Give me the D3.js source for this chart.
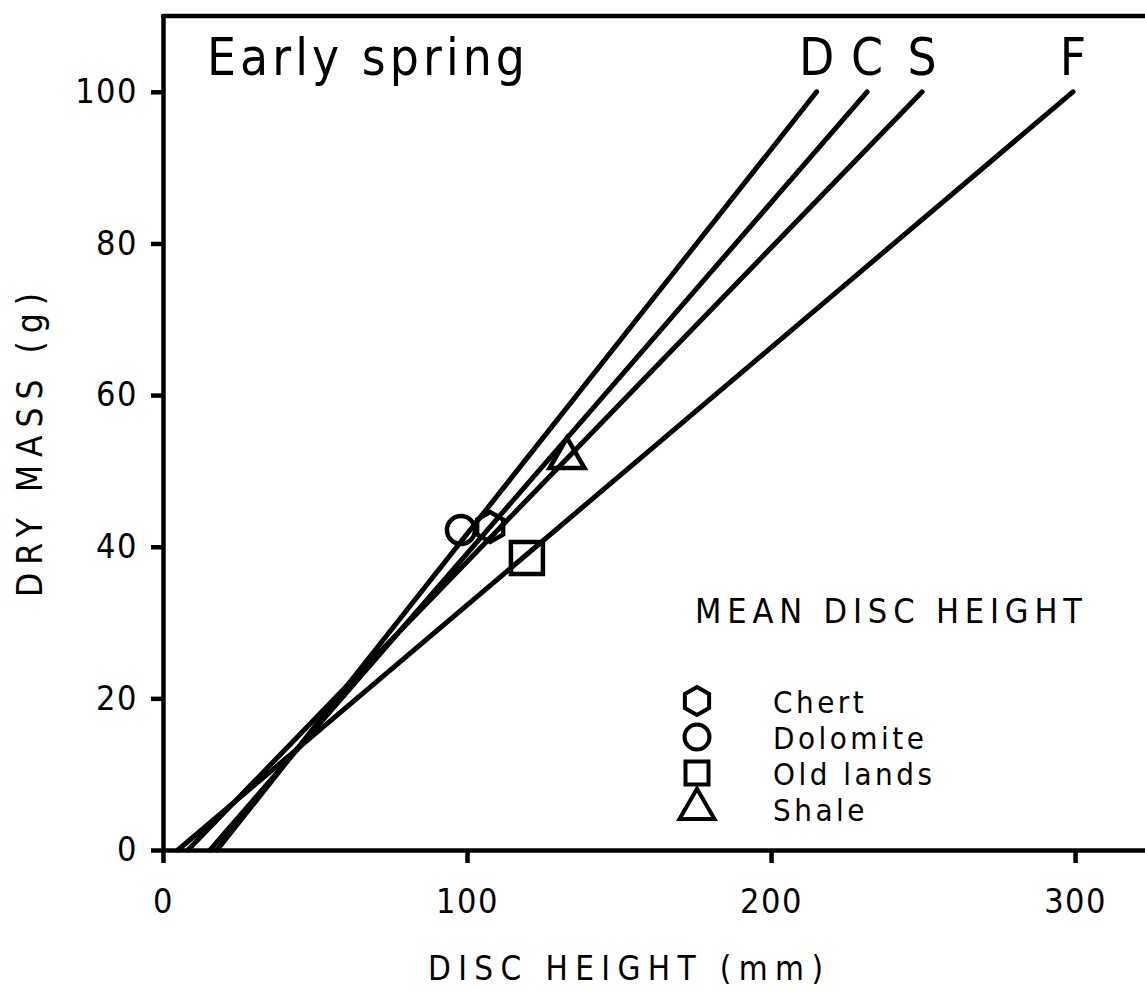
<!DOCTYPE html>
<html>
<head>
<meta charset="utf-8">
<script src="https://cdn.jsdelivr.net/npm/d3@7"></script>
<style>
  body { margin: 0; background: #fff; }
  svg { display: block; font-family: "DejaVu Sans Condensed", "DejaVu Sans", sans-serif; }
</style>
</head>
<body>
<div id="chart"></div>
<script>
// droites : hauteur du disque (mm) pour une masse nulle et pour 100 g
const lineLabels = ["D", "C", "S", "F"];
const heightAtZero = [17.8, 15.5, 8.2, 4.9];
const heightAt100 = [215, 231.6, 249.7, 299.3];

// hauteur moyenne du disque par substrat
const substrates = ["Chert", "Dolomite", "Old lands", "Shale"];
const meanHeight = [107.6, 98.0, 119.7, 132.9];
const meanMass = [42.6, 42.2, 38.5, 51.7];

const xTicks = [0, 100, 200, 300];
const yTicks = [0, 20, 40, 60, 80, 100];

const width = 1145,
  height = 991;

const svg = d3
  .select("#chart")
  .append("svg")
  .attr("width", width)
  .attr("height", height);

const x = d3.scaleLinear().domain([0, 323]).range([163, 1145]);
const y = d3.scaleLinear().domain([0, 110]).range([850, 16]);

// hexagone (pointe en haut) pour le chert
const symbolHexagon = {
  draw(context, size) {
    const r = Math.sqrt((size * 2) / (3 * Math.sqrt(3)));
    for (let i = 0; i < 6; i++) {
      const a = -Math.PI / 2 + (i * Math.PI) / 3;
      if (i === 0) context.moveTo(r * Math.cos(a), r * Math.sin(a));
      else context.lineTo(r * Math.cos(a), r * Math.sin(a));
    }
    context.closePath();
  },
};
const symbolTypes = [symbolHexagon, d3.symbolCircle, d3.symbolSquare, d3.symbolTriangle];
const plotSizes = [585, 616, 1024, 530];
const legendSizes = [509, 491, 529, 530];

function styleAxis(g) {
  g.attr("font-family", null).attr("font-size", null);
  g.select(".domain").attr("stroke", "#000").attr("stroke-width", 4.5);
  g.selectAll(".tick line").attr("stroke", "#000").attr("stroke-width", 4.5);
  g.selectAll(".tick text")
    .attr("fill", "#000")
    .style("font-size", "34px")
    .style("letter-spacing", "1.5px");
}

// axes
svg
  .append("g")
  .attr("transform", `translate(${x(0)},0)`)
  .call(
    d3.axisLeft(y).tickValues(yTicks).tickSize(12).tickSizeOuter(0).tickPadding(13)
  )
  .call(styleAxis);

svg
  .append("g")
  .attr("transform", `translate(0,${y(0)})`)
  .call(
    d3.axisBottom(x).tickValues(xTicks).tickSize(13).tickSizeOuter(0).tickPadding(26)
  )
  .call(styleAxis);

// bord supérieur
svg
  .append("line")
  .attr("x1", x(0))
  .attr("x2", x(323))
  .attr("y1", y(110))
  .attr("y2", y(110))
  .attr("stroke", "#000")
  .attr("stroke-width", 4.5)
  .attr("stroke-linecap", "round");

// droites
const line = d3
  .line()
  .x((d) => x(d[0]))
  .y((d) => y(d[1]));

svg
  .append("g")
  .selectAll("path")
  .data(lineLabels)
  .join("path")
  .attr("d", (d, i) =>
    line([
      [heightAtZero[i], 0],
      [heightAt100[i], 100],
    ])
  )
  .attr("fill", "none")
  .attr("stroke", "#000")
  .attr("stroke-width", 5)
  .attr("stroke-linecap", "round");

svg
  .append("g")
  .selectAll("text")
  .data(lineLabels)
  .join("text")
  .attr("x", (d, i) => x(heightAt100[i]))
  .attr("y", 75)
  .attr("text-anchor", "middle")
  .style("font-size", "51px")
  .text((d) => d);

// moyennes
svg
  .append("g")
  .selectAll("path")
  .data(substrates)
  .join("path")
  .attr("transform", (d, i) => `translate(${x(meanHeight[i])},${y(meanMass[i])})`)
  .attr("d", (d, i) => d3.symbol(symbolTypes[i], plotSizes[i])())
  .attr("fill", "none")
  .attr("stroke", "#000")
  .attr("stroke-width", 4.5);

// titre
svg
  .append("text")
  .attr("x", 207)
  .attr("y", 75)
  .attr("textLength", 318)
  .attr("lengthAdjust", "spacing")
  .style("font-size", "51px")
  .text("Early spring");

// légende
svg
  .append("text")
  .attr("x", 695)
  .attr("y", 623)
  .attr("textLength", 387)
  .attr("lengthAdjust", "spacing")
  .style("font-size", "34px")
  .text("MEAN DISC HEIGHT");

const legend = svg
  .append("g")
  .selectAll("g")
  .data(substrates)
  .join("g")
  .attr("transform", (d, i) => `translate(697,${713 + i * 36})`);

legend
  .append("path")
  .attr("transform", "translate(0,-12)")
  .attr("d", (d, i) => d3.symbol(symbolTypes[i], legendSizes[i])())
  .attr("fill", "none")
  .attr("stroke", "#000")
  .attr("stroke-width", 4);

legend
  .append("text")
  .attr("x", 76)
  .style("font-size", "31px")
  .style("letter-spacing", "3.5px")
  .text((d) => d);

// titres des axes
svg
  .append("text")
  .attr("x", 428)
  .attr("y", 980)
  .attr("textLength", 395)
  .attr("lengthAdjust", "spacing")
  .style("font-size", "33px")
  .text("DISC HEIGHT (mm)");

svg
  .append("text")
  .attr("transform", "translate(42,445) rotate(-90)")
  .attr("text-anchor", "middle")
  .attr("textLength", 304)
  .attr("lengthAdjust", "spacing")
  .style("font-size", "35px")
  .text("DRY MASS (g)");
</script>
</body>
</html>
